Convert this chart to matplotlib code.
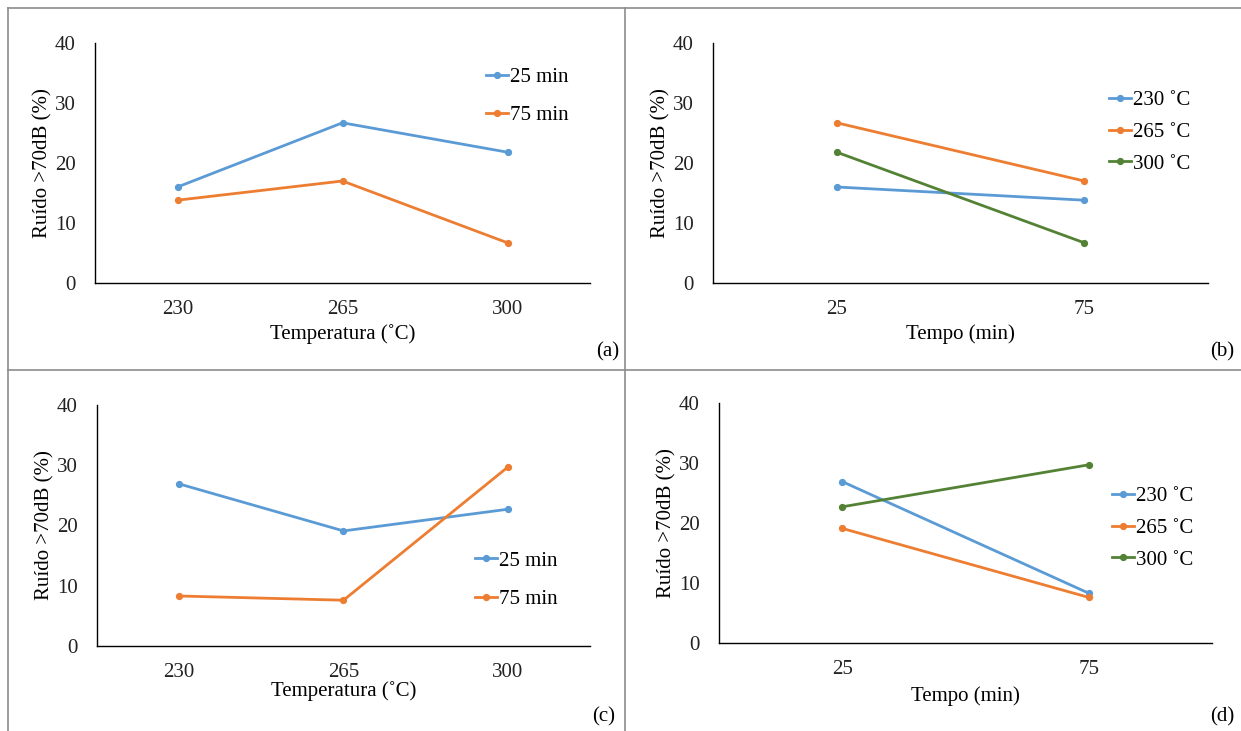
import matplotlib
matplotlib.use("Agg")
import matplotlib.pyplot as plt
from matplotlib.lines import Line2D

plt.rcParams['font.family'] = ['Liberation Serif', 'DejaVu Serif']
plt.rcParams['font.size'] = 15

# data
temps = ['230', '265', '300']
tempos = ['25', '75']
time_labels = ['25 min', '75 min']
temp_labels = ['230 ˚C', '265 ˚C', '300 ˚C']

# panels (a)/(b)
a_25min = [16.0, 26.7, 21.8]
a_75min = [13.8, 17.0, 6.7]
# panels (c)/(d)
c_25min = [26.9, 19.1, 22.7]
c_75min = [8.3, 7.6, 29.7]

blue = '#5B9BD5'
orange = '#ED7D31'
green = '#548235'
colors = [blue, orange, green]

W, H = 1241, 731
fig = plt.figure(figsize=(W / 100, H / 100), dpi=100)


def px_axes(l, r, b, t):
    return fig.add_axes([l / W, 1 - b / H, (r - l) / W, (b - t) / H])


def style(ax, ncat, xlabel, xlab_y):
    ax.set_ylim(0, 40)
    ax.set_yticks([0, 10, 20, 30, 40])
    ax.set_xlim(-0.5, ncat - 0.5)
    for s in ['top', 'right']:
        ax.spines[s].set_visible(False)
    for s in ['left', 'bottom']:
        ax.spines[s].set_linewidth(1.0)
        ax.spines[s].set_color('black')
    ax.tick_params(length=0, labelsize=15, colors='#222222')
    ax.tick_params(axis='y', pad=14)
    ax.tick_params(axis='x', pad=12)
    ax.set_ylabel('Ruído >70dB (%)', fontsize=15)
    ax.yaxis.set_label_coords(-0.086, 0.5)
    ax.set_xlabel(xlabel, fontsize=15)
    ax.xaxis.set_label_coords(0.5, xlab_y)


def plot_lines(ax, xcats, series, labels):
    x = range(len(xcats))
    for vals, lab, c in zip(series, labels, colors):
        ax.plot(x, vals, color=c, lw=2.0, marker='o', ms=4.2, label=lab)
    ax.set_xticks(list(x))
    ax.set_xticklabels(xcats)


def legend(ax, x, y, spacing):
    ax.legend(loc='center left', bbox_to_anchor=(x, y), frameon=False,
              handlelength=1.05, handletextpad=0.1, borderpad=0,
              borderaxespad=0, labelspacing=spacing, fontsize=15)


# (a) vs temperature
ax = px_axes(95, 590, 283, 43)
plot_lines(ax, temps, [a_25min, a_75min], time_labels)
style(ax, 3, 'Temperatura (˚C)', -0.172)
legend(ax, 0.79, 0.778, 0.9)

# (b) vs time
ax = px_axes(713, 1208, 283, 43)
b_series = [[a_25min[i], a_75min[i]] for i in range(3)]
plot_lines(ax, tempos, b_series, temp_labels)
style(ax, 2, 'Tempo (min)', -0.172)
legend(ax, 0.8, 0.628, 0.58)

# (c) vs temperature
ax = px_axes(97, 590, 646, 405)
plot_lines(ax, temps, [c_25min, c_75min], time_labels)
style(ax, 3, 'Temperatura (˚C)', -0.145)
legend(ax, 0.767, 0.274, 0.9)

# (d) vs time
ax = px_axes(719, 1212, 643, 403)
d_series = [[c_25min[i], c_75min[i]] for i in range(3)]
plot_lines(ax, tempos, d_series, temp_labels)
style(ax, 2, 'Tempo (min)', -0.18)
legend(ax, 0.797, 0.478, 0.58)

# table-like frame around the panels
frame = dict(color='#8c8c8c', lw=1.2, transform=fig.transFigure)
for xs, ys in [((8, W), (8, 8)), ((8, 8), (8, H)), ((625, 625), (8, H)),
               ((8, W), (370, 370))]:
    fig.add_artist(Line2D([v / W for v in xs], [1 - v / H for v in ys], **frame))

for lab, x, y in [('(a)', 608, 352), ('(b)', 1222, 352),
                  ('(c)', 604, 717), ('(d)', 1222, 717)]:
    fig.text(x / W, 1 - y / H, lab, ha='center', va='center', fontsize=15)

fig.savefig('out.png', dpi=100)
